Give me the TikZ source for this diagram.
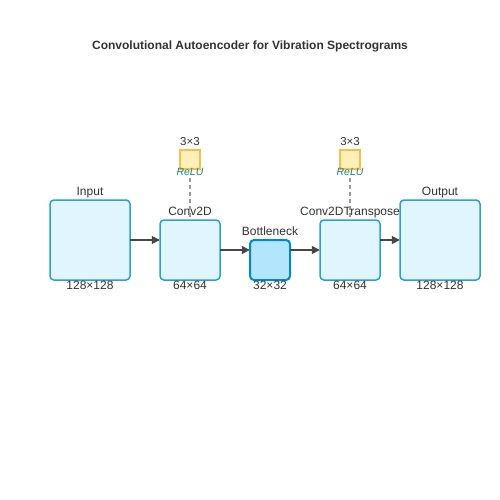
\documentclass[tikz,border=0pt]{standalone}
\usepackage{fontspec}
\setmainfont{Liberation Sans}
\usetikzlibrary{arrows.meta}
\definecolor{boxfill}{HTML}{E1F5FE}
\definecolor{boxdraw}{HTML}{2A9FD8}
\definecolor{bfill}{HTML}{B3E5FC}
\definecolor{bdraw}{HTML}{0288D1}
\definecolor{kfill}{HTML}{FFEFB8}
\definecolor{kdraw}{HTML}{F7BE4A}
\definecolor{relu}{HTML}{17897A}
\definecolor{txt}{HTML}{333333}
\tikzset{
  layer/.style={draw=boxdraw, fill=boxfill, line width=1.5pt, rounded corners=4pt},
  bneck/.style={draw=bdraw, fill=bfill, line width=2pt, rounded corners=4pt},
  kern/.style={draw=kdraw, fill=kfill, line width=1.2pt},
  lbl/.style={text=txt, font=\fontsize{12}{14}\selectfont, inner sep=0pt, anchor=base},
  klbl/.style={text=txt, font=\fontsize{11.5}{13}\selectfont, inner sep=0pt, anchor=base},
  rlbl/.style={text=relu, font=\itshape\fontsize{10.5}{12}\selectfont, inner sep=0pt, anchor=base},
  conn/.style={draw=txt!90, line width=1.5pt, -{Triangle[length=8pt,width=8pt]}},
  dashline/.style={draw=black!40, line width=1.2pt, dash pattern=on 4pt off 3pt}
}
\begin{document}
\begin{tikzpicture}[x=1pt,y=-1pt]
\useasboundingbox (0,0) rectangle (500,500);
\fill[white] (0,0) rectangle (500,500);
\node[text=txt, font=\bfseries\fontsize{12}{14}\selectfont, inner sep=0pt, anchor=base] (title) at (250,49.5) {Convolutional Autoencoder for Vibration Spectrograms};

\path[layer] (50,200) rectangle (130,280);
\node[inner sep=0pt, minimum width=80pt, minimum height=80pt] (in) at (90,240) {};
\path[layer] (160,220) rectangle (220,280);
\node[inner sep=0pt, minimum width=60pt, minimum height=60pt] (c1) at (190,250) {};
\path[bneck] (250,240) rectangle (290,280);
\node[inner sep=0pt, minimum width=40pt, minimum height=40pt] (bn) at (270,260) {};
\path[layer] (320,220) rectangle (380,280);
\node[inner sep=0pt, minimum width=60pt, minimum height=60pt] (c2) at (350,250) {};
\path[layer] (400,200) rectangle (480,280);
\node[inner sep=0pt, minimum width=80pt, minimum height=80pt] (out) at (440,240) {};

\node[lbl] (inl) at (90,195) {Input};
\node[lbl] (c1l) at (190,215) {Conv2D};
\node[lbl] (bnl) at (270,235) {Bottleneck};
\node[lbl] (c2l) at (350,215) {Conv2DTranspose};
\node[lbl] (outl) at (440,195) {Output};

\node[lbl] (ins) at (90,289.5) {128×128};
\node[lbl] (c1s) at (190,289.5) {64×64};
\node[lbl] (bns) at (270,289.5) {32×32};
\node[lbl] (c2s) at (350,289.5) {64×64};
\node[lbl] (outs) at (440,289.5) {128×128};

\node[kern, minimum width=20pt, minimum height=19pt, inner sep=0pt] (k1) at (190,159.5) {};
\node[kern, minimum width=20pt, minimum height=19pt, inner sep=0pt] (k2) at (350,159.5) {};
\node[klbl] (k1t) at (190,145) {3×3};
\node[klbl] (k2t) at (350,145) {3×3};
\node[rlbl] (r1) at (190,175) {ReLU};
\node[rlbl] (r2) at (350,175) {ReLU};

\coordinate (d1) at (190,178);
\coordinate (d2) at (350,178);
\draw[dashline] (d1) -- (c1.north);
\draw[dashline] (d2) -- (c2.north);

\draw[conn] (in.east) -- (c1.west |- in.east);
\draw[conn] (c1.east) -- (bn.west |- c1.east);
\draw[conn] (bn.east |- c2.west) -- (c2.west);
\draw[conn] (c2.east |- out.west) -- (out.west);
\end{tikzpicture}
\end{document}
